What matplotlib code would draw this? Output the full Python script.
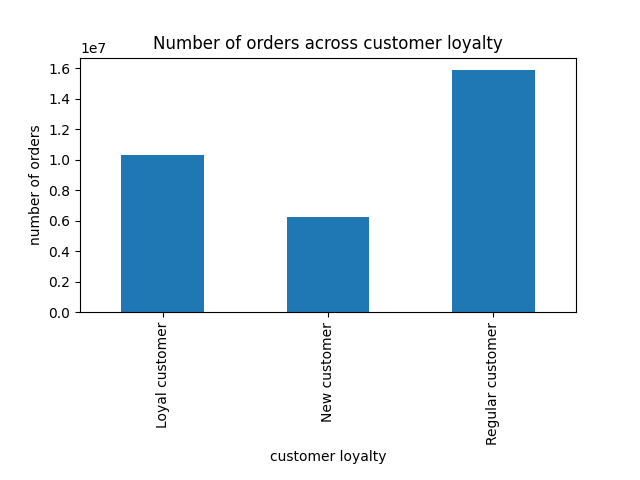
import matplotlib
matplotlib.use('Agg')
import matplotlib.pyplot as plt
import pandas as pd

loyalty = ['Loyal customer', 'New customer', 'Regular customer']
order_counts = [10310000, 6240000, 15890000]

orders = pd.Series(order_counts, index=loyalty)

fig = plt.figure(figsize=(6.4, 4.8), dpi=100)
ax = orders.plot(kind='bar')
plt.title('Number of orders across customer loyalty')
plt.xlabel('customer loyalty')
plt.ylabel('number of orders')
plt.subplots_adjust(bottom=0.35)
plt.savefig('out.png')
